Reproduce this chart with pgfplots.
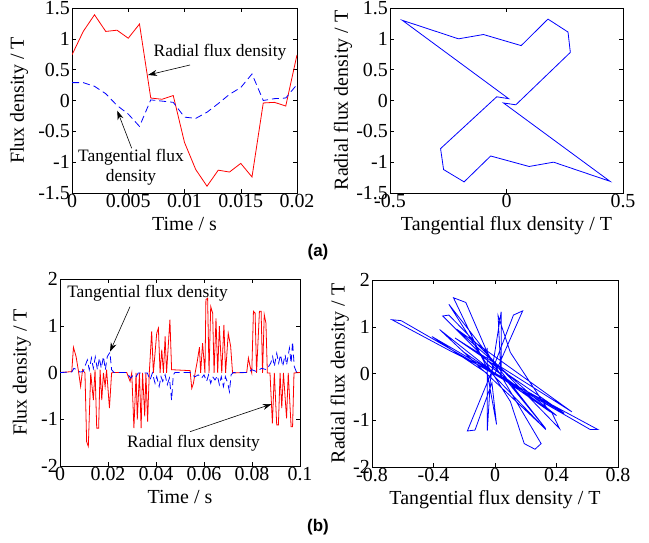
\documentclass[border=0pt]{standalone}
\usepackage{fontspec}
\setmainfont{Liberation Serif}
\newfontfamily\capfont{Liberation Sans}
\usepackage{pgfplots}
\pgfplotsset{compat=1.18}
\usetikzlibrary{arrows.meta}

% time series (a): t, radial, tangential
\pgfplotstableread{
t      rad    tan
0      0.74   0.29
0.001  1.12   0.29
0.002  1.39   0.23
0.003  1.12   0.11
0.004  1.14  -0.08
0.005  1.01  -0.22
0.006  1.24  -0.42
0.007  0.04   0.01
0.008  0.02  -0.01
0.009  0.08  -0.03
0.010 -0.68  -0.27
0.011 -1.12  -0.29
0.012 -1.39  -0.19
0.013 -1.13  -0.05
0.014 -1.16   0.10
0.015 -1.02   0.21
0.016 -1.24   0.43
0.017 -0.04   0.00
0.018 -0.03   0.03
0.019 -0.09   0.04
0.020  0.74   0.26
}\seriesA

\pgfplotsset{
  panel/.style={
    scale only axis, anchor=south west,
    font=\fontsize{20}{23}\selectfont,
    /pgf/number format/assume math mode=true,
    /pgf/number format/fixed, /pgf/number format/precision=3,
    scaled ticks=false,
    tick align=inside, major tick length=4bp,
    every tick/.style={black, line width=0.5pt},
    axis line style={line width=0.7pt},
    xticklabel style={inner sep=1.5bp},
    yticklabel style={inner sep=2bp},
    xlabel style={inner sep=2bp, yshift=-5bp},
    ylabel style={inner sep=2bp},
  },
  leftpanel/.style={panel, ylabel style={yshift=6bp}},
  rad/.style={red, line width=0.8pt},
  tan/.style={blue, line width=0.8pt, dash pattern=on 7bp off 4bp},
  loc/.style={blue, line width=0.8pt},
}

\begin{document}
\begin{tikzpicture}
\useasboundingbox (0,0) rectangle (649bp,543bp);

% (a) left: time plot
\begin{axis}[leftpanel, at={(72bp,350bp)}, width=225bp, height=185bp,
  xmin=0, xmax=0.02, ymin=-1.5, ymax=1.5,
  xtick={0,0.005,0.01,0.015,0.02}, ytick={-1.5,-1,-0.5,0,0.5,1,1.5},
  xlabel={Time / s}, ylabel={Flux density / T}]
  \addplot[rad] table[x=t, y=rad] {\seriesA};
  \addplot[tan] table[x=t, y=tan] {\seriesA};
\end{axis}

% (a) right: locus
\begin{axis}[panel, at={(390bp,350bp)}, width=233bp, height=185bp,
  xmin=-0.5, xmax=0.5, ymin=-1.5, ymax=1.5,
  xtick={-0.5,0,0.5}, ytick={-1.5,-1,-0.5,0,0.5,1,1.5},
  xlabel={Tangential flux density / T}, ylabel={Radial flux density / T}]
  \addplot[loc] coordinates {
    (0.274,0.78) (0.264,1.11) (0.178,1.32) (0.063,0.89) (-0.099,1.07)
    (-0.206,1.00) (-0.447,1.30) (0.009,0.03) (-0.042,0.06) (-0.283,-0.78)
    (-0.270,-1.12) (-0.182,-1.32) (-0.068,-0.90) (0.097,-1.07) (0.202,-1.00)
    (0.444,-1.31) (-0.013,-0.04) (0.040,-0.07) (0.274,0.78)
  };
\end{axis}

% (b) left: time plot
\begin{axis}[leftpanel, at={(60bp,77bp)}, width=240bp, height=187bp,
  xmin=0, xmax=0.1, ymin=-2, ymax=2,
  xtick={0,0.02,0.04,0.06,0.08,0.1}, ytick={-2,-1,0,1,2},
  xlabel={Time / s}, ylabel={Flux density / T}]
  \addplot[rad] coordinates {
    (0,0) (0.0028,0.01) (0.0049,0.02) (0.0056,0.54) (0.0067,0.34) (0.0076,0.06)
    (0.0086,-0.30) (0.0094,0.06) (0.0104,-0.01) (0.0111,-1.48) (0.0118,-1.58)
    (0.0128,-0.01) (0.0139,-0.59) (0.0146,0.06) (0.0153,-1.19) (0.0161,-1.19)
    (0.0167,0.06) (0.0174,-0.59) (0.0181,-0.01) (0.0188,-0.30) (0.0194,0.06)
    (0.0206,-0.76) (0.0215,-0.01) (0.0222,0) (0.0278,0) (0.0292,-0.19)
    (0.0299,-0.01) (0.0308,-1.19) (0.0317,-0.01) (0.0322,-1.01) (0.0331,-0.01)
    (0.0338,-1.19) (0.0344,-0.01) (0.0353,-0.94) (0.0358,-0.01) (0.0365,-1.05)
    (0.0372,-0.01) (0.0382,0.88) (0.0389,-0.01) (0.0403,0.84) (0.0410,0.95)
    (0.0417,-0.01) (0.0424,0.49) (0.0431,-0.01) (0.0438,0.77) (0.0444,-0.01)
    (0.0458,1.13) (0.0465,0.06) (0.0542,0.04) (0.0549,-0.34) (0.0556,-0.23)
    (0.0563,-0.01) (0.0572,0.24) (0.0581,0.54) (0.0586,-0.01) (0.0594,0.63)
    (0.0604,-0.01) (0.0608,1.56) (0.0615,1.59) (0.0621,-0.01) (0.0628,1.41)
    (0.0636,1.27) (0.0642,-0.01) (0.0650,1.16) (0.0657,-0.01) (0.0664,0.99)
    (0.0674,-0.01) (0.0683,1.02) (0.0690,-0.01) (0.0701,0.84) (0.0711,0.56)
    (0.0719,-0.01) (0.0778,0) (0.0785,0.31) (0.0792,0.13) (0.0799,-0.01)
    (0.0806,1.31) (0.0813,1.27) (0.0819,-0.01) (0.0831,1.31) (0.0838,1.31)
    (0.0844,-0.01) (0.0851,1.24) (0.0858,1.06) (0.0864,-0.01) (0.0875,-0.01)
    (0.0885,-1.09) (0.0893,-0.01) (0.0903,-1.12) (0.0910,-1.12) (0.0917,-0.01)
    (0.0924,-0.76) (0.0931,-0.01) (0.0944,-0.98) (0.0951,-0.01) (0.0963,-1.16)
    (0.0969,-1.16) (0.0975,-0.01) (0.1,0)
  };
  \addplot[tan] coordinates {
    (0,0) (0.0049,0.01) (0.0058,0.09) (0.0069,0.06) (0.0083,0.01) (0.0097,0.02)
    (0.0104,0.13) (0.0114,0.27) (0.0122,0.06) (0.0131,0.31) (0.0139,0.09)
    (0.0147,0.33) (0.0156,0.06) (0.0164,0.31) (0.0172,0.09) (0.0181,0.34)
    (0.0189,0.06) (0.0197,0.34) (0.0208,0.43) (0.0215,0.06) (0.0225,0)
    (0.0278,0) (0.0285,-0.05) (0.0294,-0.12) (0.0306,-0.05) (0.0317,-0.09)
    (0.0326,-0.01) (0.0364,-0.01) (0.0375,-0.16) (0.0385,-0.01) (0.0396,-0.23)
    (0.0403,-0.09) (0.0413,-0.30) (0.0421,-0.09) (0.0428,-0.19) (0.0438,-0.05)
    (0.0447,-0.26) (0.0456,-0.12) (0.0465,-0.59) (0.0472,-0.05) (0.0479,0)
    (0.0542,0) (0.0549,-0.05) (0.0563,-0.09) (0.0576,-0.05) (0.0590,-0.12)
    (0.0600,-0.05) (0.0611,-0.19) (0.0619,-0.05) (0.0628,-0.23) (0.0636,-0.09)
    (0.0646,-0.16) (0.0656,-0.07) (0.0664,-0.26) (0.0672,-0.09) (0.0681,-0.30)
    (0.0689,-0.09) (0.0699,-0.23) (0.0706,-0.41) (0.0713,-0.05) (0.0722,0)
    (0.0785,0) (0.0799,0.06) (0.0819,0.02) (0.0840,0.09) (0.0861,0.06)
    (0.0878,0.20) (0.0886,0.34) (0.0893,0.13) (0.0903,0.41) (0.0911,0.20)
    (0.0919,0.38) (0.0928,0.13) (0.0938,0.38) (0.0944,0.16) (0.0956,0.52)
    (0.0963,0.20) (0.0969,0.66) (0.0976,0.13) (0.0986,0) (0.1,0)
  };
\end{axis}

% (b) right: locus
\begin{axis}[panel, at={(372bp,76bp)}, width=246bp, height=187bp,
  xmin=-0.8, xmax=0.8, ymin=-2, ymax=2,
  xtick={-0.8,-0.4,0,0.4,0.8}, ytick={-2,-1,0,1,2},
  xlabel={Tangential flux density / T}, ylabel={Radial flux density / T}]
  \addplot[loc] coordinates {
    (0,0) (-0.30,0.50) (-0.67,1.15) (-0.61,1.13) (0.62,-1.20) (0.67,-1.20)
    (0.02,-0.05) (-0.36,0.94) (0.30,-1.10) (0.33,-1.20) (-0.05,0.10)
    (-0.27,1.62) (-0.19,1.52) (-0.05,0.45) (0.30,-1.50) (0.26,-1.62)
    (0.19,-1.50) (0.10,-0.60) (-0.30,1.48) (0.33,-1.18) (0.05,-0.05)
    (-0.34,1.23) (-0.30,1.25) (0.42,-1.18) (0.37,-0.84) (-0.05,0.20)
    (-0.05,0.55) (-0.05,-1.22) (-0.03,-0.15) (0.04,1.32) (0.04,-0.10)
    (0.02,1.24) (0.10,0.45) (0.35,-0.80) (0.00,0.00) (0.18,1.34)
    (0.12,1.25) (-0.02,0.05) (-0.18,-1.23) (-0.13,-1.21) (-0.02,-0.20)
    (0.01,-1.09) (-0.05,0.00) (-0.41,0.79) (0.45,-0.85) (-0.26,0.76)
    (0.50,-0.82) (-0.25,0.95) (0.25,-0.50) (0.40,-0.90) (-0.20,0.45) (0,0)
  };
\end{axis}

% annotations
\begin{scope}[font=\fontsize{17.5}{20}\selectfont, >={Stealth[length=9bp,width=6bp]}]
  \node at (220bp,491bp) {Radial flux density};
  \draw[->, line width=0.6pt] (190bp,478bp) -- (148bp,468bp);
  \node[align=center] at (131bp,376bp) {Tangential flux\\density};
  \draw[->, line width=0.6pt] (131.7bp,394.7bp) -- (117.3bp,432.3bp);
  \node at (147.5bp,249.7bp) {Tangential flux density};
  \draw[->, line width=0.6pt] (130bp,236.3bp) -- (110bp,191.3bp);
  \node at (193.5bp,100bp) {Radial flux density};
  \draw[->, line width=0.6pt] (190bp,111.3bp) -- (271.7bp,139bp);
\end{scope}

\node[font=\capfont\bfseries\fontsize{17}{19}\selectfont] at (318bp,291bp) {(a)};
\node[font=\capfont\bfseries\fontsize{17}{19}\selectfont] at (318bp,16bp) {(b)};
\end{tikzpicture}
\end{document}
